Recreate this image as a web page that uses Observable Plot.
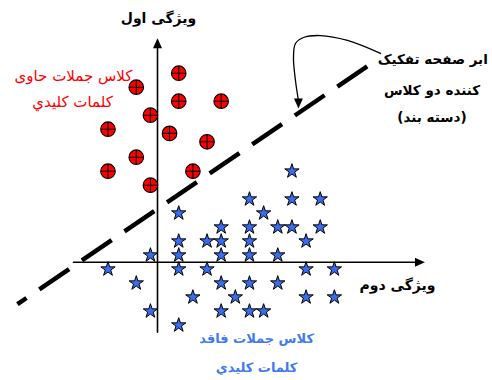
<!DOCTYPE html>
<html><head><meta charset="utf-8">
<script src="https://cdn.jsdelivr.net/npm/d3@7"></script>
<script src="https://cdn.jsdelivr.net/npm/@observablehq/plot@0.6"></script>
<style>body{margin:0;background:#fff}#c{width:492px;height:380px}</style>
</head><body><div id="c"></div>
<script>
// Class 1 (sentences containing keywords) – red circles, in grid units
const redX = [1.5, -1.5, 1.5, 4.5, -0.5, -3.5, 0.85, 3.5, -1.5, -3.5, 2.5, -0.5];
const redY = [13.5, 12.5, 11.5, 11.5, 10.5, 9.5, 9.2, 8.6, 7.5, 6.5, 6.5, 5.5];
// Class 2 (sentences without keywords) – blue stars
const starX = [1.5,1.5,3.5,-0.5,1.5,-3.5,1.5,3.5,-1.5,2.5,-0.5,1.5,
  9.5,6.5,9.5,11.5,7.5,4.5,6.5,8.5,9.5,11.5,4.5,6.5,10.5,4.5,6.5,8.5,
  10.5,12.5,4.5,6.5,8.5,5.5,10.5,12.5,4.5,6.5,7.5];
const starY = [3.5,1.5,1.5,0.5,0.5,-0.5,-0.5,-0.5,-1.5,-2.5,-3.5,-4.5,
  6.5,4.5,4.5,4.5,3.5,2.5,2.5,2.5,2.5,2.5,1.5,1.5,1.5,0.5,0.5,0.5,
  -0.5,-0.5,-1.5,-1.5,-1.5,-2.5,-2.5,-2.5,-3.5,-3.5,-3.5];
// separating hyperplane (classifier)
const sepX = [-9.9, 14.9];
const sepY = [-3.0, 14.05];
// axes extents
const axisXFrom = -5.94, axisXTo = 18.9;
const axisYFrom = -5.0, axisYTo = 16.0;
// callout curve
const calloutX = [15.76, 13.43, 11.52, 10.32, 9.75, 9.61, 9.75, 9.96];
const calloutY = [14.91, 15.84, 16.19, 16.05, 15.62, 14.62, 12.98, 11.55];
const calloutTip = [9.96, 10.98];
// labels
const yTitle = "ویژگی اول";
const xTitle = "ویژگی دوم";
const redLabel = ["کلاس جملات حاوی", "کلمات کلیدي"];
const blueLabel = ["کلاس جملات فاقد", "کلمات کلیدي"];
const sepLabel = ["ابر صفحه تفکیک", "کننده دو کلاس", "(دسته بند)"];
const yTitlePos = [0.07, 17.4];
const xTitlePos = [16.96, -1.66];
const redLabelPos = [[-5.94, 13.26], [-6.0, 11.4]];
const blueLabelPos = [[7.0, -5.5], [7.0, -7.55]];
const sepLabelPos = [[19.45, 14.48], [19.4, 12.26], [19.4, 10.34]];

const circlePlus = {draw(ctx, size) {
  const r = Math.sqrt(size / Math.PI);
  ctx.moveTo(r, 0); ctx.arc(0, 0, r, 0, 2 * Math.PI);
  ctx.moveTo(-r, 0); ctx.lineTo(r, 0);
  ctx.moveTo(0, -r); ctx.lineTo(0, r);
}};
const arrowHead = {draw(ctx, size) {
  ctx.moveTo(0, 0); ctx.lineTo(4.5, 10); ctx.lineTo(-4.5, 10); ctx.closePath();
}};

const reds = redX.map((x, i) => ({x, y: redY[i]}));
const stars = starX.map((x, i) => ({x, y: starY[i]}));
const sep = sepX.map((x, i) => ({x, y: sepY[i]}));
const callout = calloutX.map((x, i) => ({x, y: calloutY[i]}));
const lbl = (texts, pos) => texts.map((t, i) => ({t, x: pos[i][0], y: pos[i][1]}));
const font = "DejaVu Sans";

const chart = Plot.plot({
  width: 492, height: 380, margin: 0,
  x: {domain: [-11.0954, 23.6749], axis: null},
  y: {domain: [-8.45, 18.693], axis: null},
  style: {background: "#fff", fontFamily: font},
  marks: [
    Plot.line([{x: axisXFrom, y: 0}, {x: axisXTo - 0.5, y: 0}], {x: "x", y: "y", stroke: "#000", strokeWidth: 1.6}),
    Plot.line([{x: 0, y: axisYFrom}, {x: 0, y: axisYTo - 0.5}], {x: "x", y: "y", stroke: "#000", strokeWidth: 1.6}),
    Plot.dot([{x: axisXTo, y: 0}], {x: "x", y: "y", symbol: arrowHead, rotate: 90, fill: "#000", r: 5}),
    Plot.dot([{x: 0, y: axisYTo}], {x: "x", y: "y", symbol: arrowHead, rotate: 0, fill: "#000", r: 5}),
    Plot.line(sep, {x: "x", y: "y", stroke: "#000", strokeWidth: 4.5, strokeDasharray: "36,15.5", strokeDashoffset: 25, strokeLinecap: "butt"}),
    Plot.line(callout, {x: "x", y: "y", curve: "catmull-rom", stroke: "#000", strokeWidth: 1.3}),
    Plot.dot([{x: calloutTip[0], y: calloutTip[1]}], {x: "x", y: "y", symbol: arrowHead, rotate: 180, fill: "#000", r: 5}),
    Plot.dot(reds, {x: "x", y: "y", symbol: circlePlus, r: 7.3, fill: "#ff0000", stroke: "#000", strokeWidth: 1.1}),
    Plot.dot(stars, {x: "x", y: "y", symbol: "star", r: 4.5, fill: "#3a6cf0", stroke: "#000", strokeWidth: 1}),
    Plot.text([{t: yTitle, x: yTitlePos[0], y: yTitlePos[1]}], {x: "x", y: "y", text: "t", fontSize: 14, fontWeight: "bold", fill: "#000"}),
    Plot.text([{t: xTitle, x: xTitlePos[0], y: xTitlePos[1]}], {x: "x", y: "y", text: "t", fontSize: 14, fontWeight: "bold", fill: "#000"}),
    Plot.text(lbl(redLabel, redLabelPos), {x: "x", y: "y", text: "t", fontSize: 15, fill: "#ff0000"}),
    Plot.text(lbl(blueLabel, blueLabelPos), {x: "x", y: "y", text: "t", fontSize: 13, fontWeight: "bold", fill: "#4079f2"}),
    Plot.text(lbl(sepLabel, sepLabelPos), {x: "x", y: "y", text: "t", fontSize: 13.5, fontWeight: "bold", fill: "#000"})
  ]
});
document.getElementById("c").appendChild(chart);
</script>
</body></html>
